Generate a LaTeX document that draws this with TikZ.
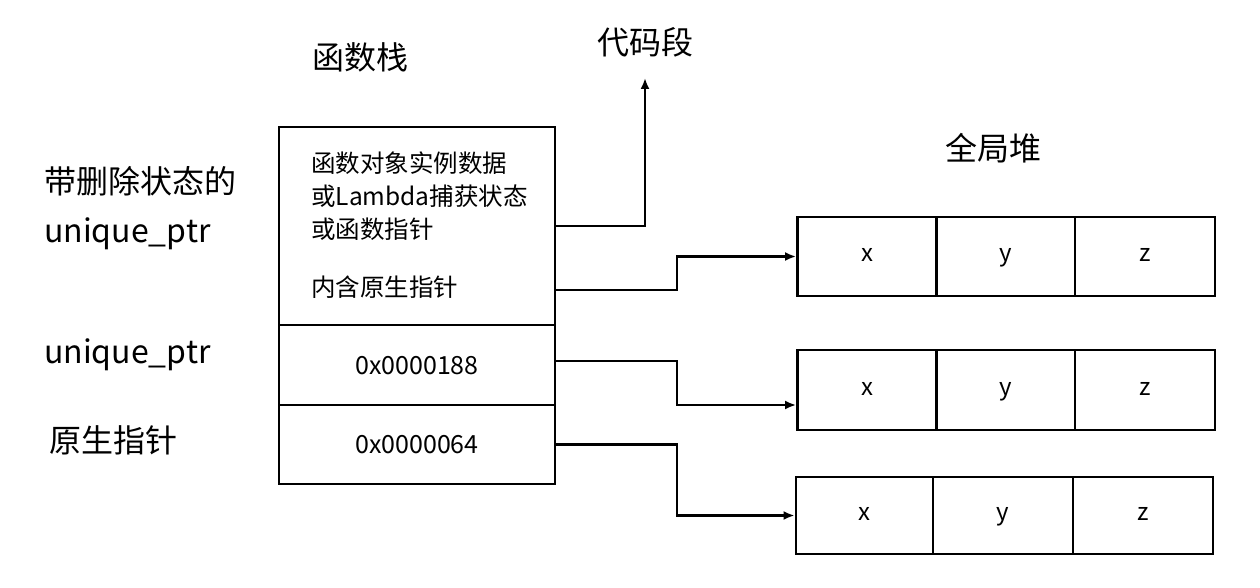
\documentclass[tikz,border=0pt]{standalone}
\usepackage{fontspec}
\setmainfont{Noto Sans CJK SC}
\usetikzlibrary{arrows.meta,calc}
\begin{document}
\begin{tikzpicture}[x=1pt,y=-1pt,
  box/.style={draw,line width=2.8pt,rectangle,inner sep=0pt},
  cell/.style={box,minimum width=139pt,minimum height=79pt,font=\fontsize{24}{28}\selectfont,text height=13pt,text depth=3pt},
  lab/.style={font=\fontsize{32}{38}\selectfont,inner sep=0pt},
  conn/.style={line width=2.8pt,-{Latex[length=11pt,width=9pt]}}]
\useasboundingbox (0,0) rectangle (1260,588);
% stack
\node[box,minimum width=276pt,minimum height=198pt] (top) at (417,226) {};
\node[box,minimum width=276pt,minimum height=80pt,font=\fontsize{25}{30}\selectfont,text height=18pt,text depth=0pt] (mid) at (417,365) {0x0000188};
\node[box,minimum width=276pt,minimum height=79pt,font=\fontsize{25}{30}\selectfont,text height=18pt,text depth=0pt] (bot) at (417,444.5) {0x0000064};
\node[anchor=west,align=left,inner sep=0pt,font=\fontsize{24.5}{33}\selectfont] (desc) at (311,196) {函数对象实例数据\\或Lambda捕获状态\\或函数指针};
\node[anchor=west,inner sep=0pt,font=\fontsize{24.5}{30}\selectfont] (raw) at (311,287) {内含原生指针};
% titles
\node[lab] (stk) at (360,57) {函数栈};
\node[lab] (code) at (645,42) {代码段};
\node[lab] (heap) at (993,148) {全局堆};
% left labels
\node[lab,anchor=west,align=left,font=\fontsize{32}{49}\selectfont] (l1) at (44,208) {带删除状态的\\unique\_ptr};
\node[lab,anchor=west] (l2) at (44,355) {unique\_ptr};
\node[lab,anchor=west] (l3) at (49,440) {原生指针};
% heap rows
\node[cell] (h1a) at (867,256.5) {x};
\node[cell] (h1b) at (1005.5,256.5) {y};
\node[cell,minimum width=140pt] (h1c) at (1145,256.5) {z};
\node[cell,minimum height=80pt] (h2a) at (867,390) {x};
\node[cell,minimum height=80pt] (h2b) at (1005.5,390) {y};
\node[cell,minimum height=80pt,minimum width=140pt] (h2c) at (1145,390) {z};
\node[cell,minimum width=137pt,minimum height=77pt] (h3a) at (864.5,515.5) {x};
\node[cell,minimum width=140pt,minimum height=77pt] (h3b) at (1003,515.5) {y};
\node[cell,minimum width=140pt,minimum height=77pt] (h3c) at (1143,515.5) {z};
% connectors
\coordinate (codein) at (645,78);
\coordinate (p1) at (top.east);
\coordinate (p2) at ($(top.east)+(0,64)$);
\coordinate (h2in) at ($(h2a.west)+(0,15)$);
\draw[conn] (p1) -| (codein);
\draw[conn] (p2) -- (677,290) |- (h1a.west);
\draw[conn] ($(mid.east)+(0,-4)$) -- (677,361) |- (h2in);
\draw[conn] (bot.east) -- (677,444.5) |- (h3a.west);
\end{tikzpicture}
\end{document}
